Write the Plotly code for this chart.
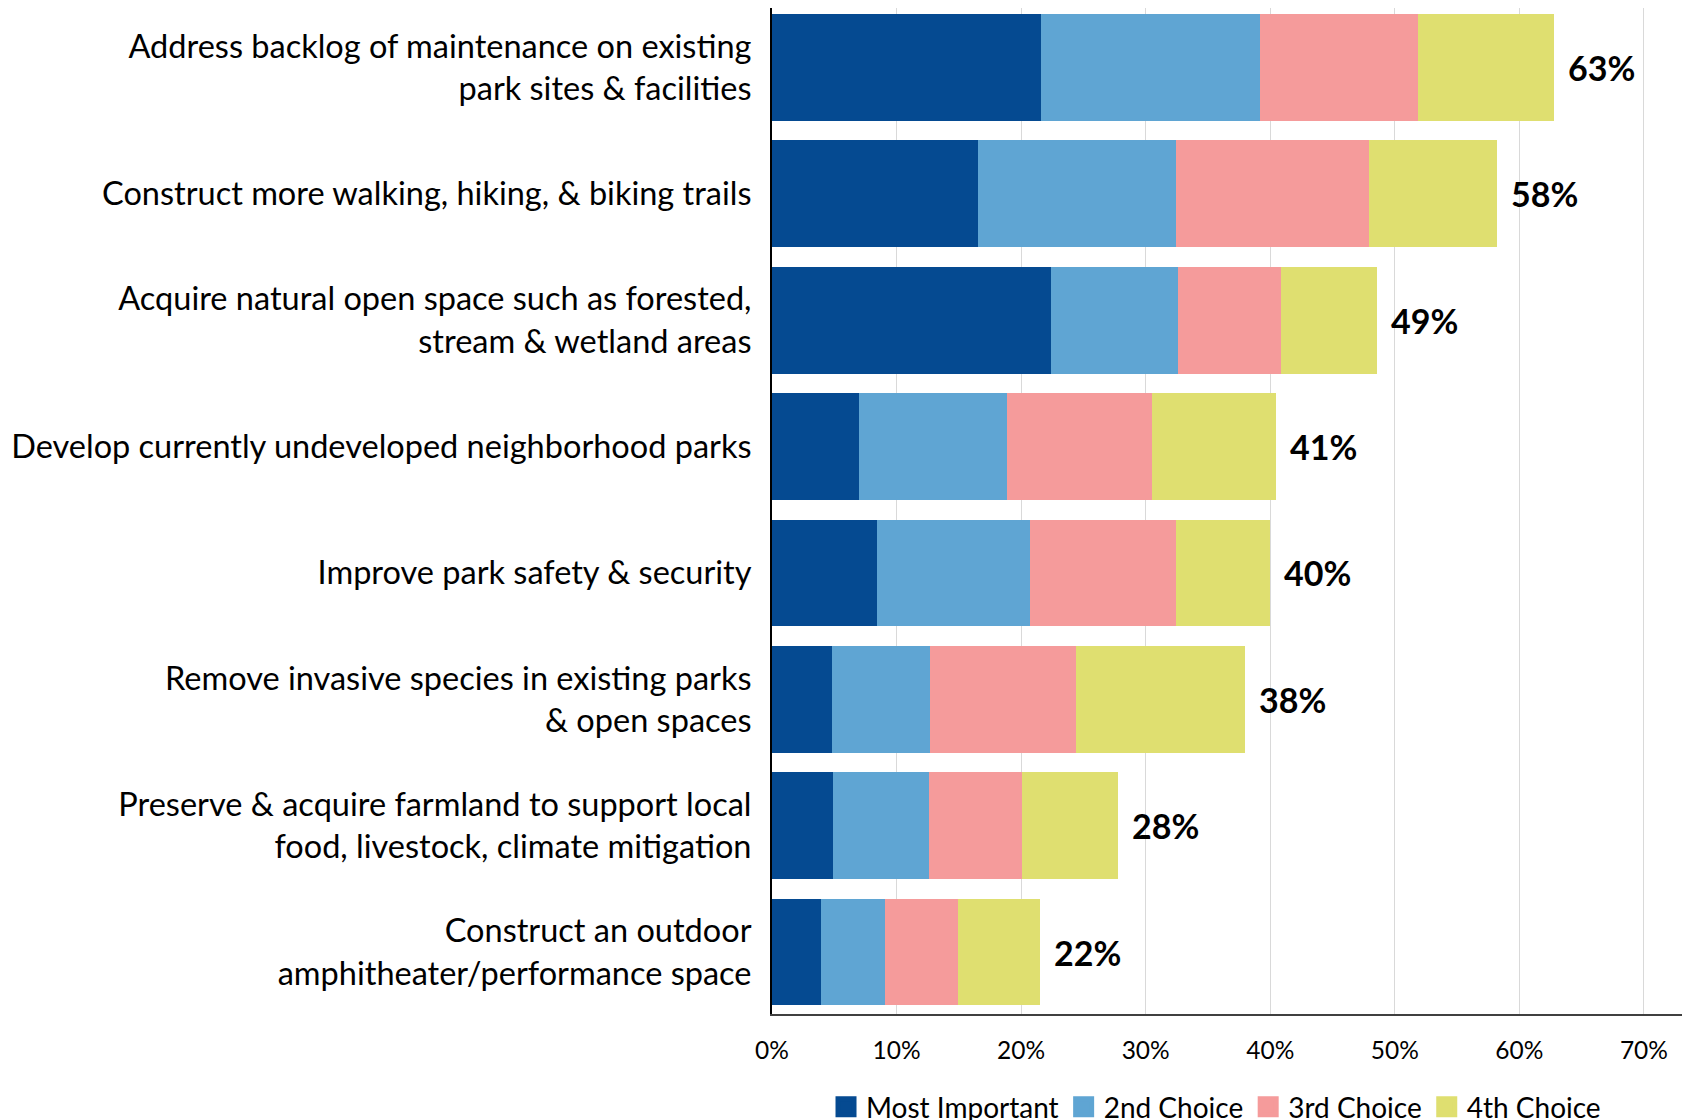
import plotly.graph_objects as go

# ------------------------------------------------------------------ #
# Data (percent of respondents)
# ------------------------------------------------------------------ #
CATEGORIES = [
    "Address backlog of maintenance on existing<br>park sites & facilities",
    "Construct more walking, hiking, & biking trails",
    "Acquire natural open space such as forested,<br>stream & wetland areas",
    "Develop currently undeveloped neighborhood parks",
    "Improve park safety & security",
    "Remove invasive species in existing parks<br>& open spaces",
    "Preserve & acquire farmland to support local<br>food, livestock, climate mitigation",
    "Construct an outdoor<br>amphitheater/performance space",
]
MOST_IMPORTANT = [21.6, 16.5, 22.4, 7.0, 8.4, 4.8, 4.9, 3.9]
SECOND_CHOICE = [17.6, 15.9, 10.2, 11.9, 12.3, 7.9, 7.7, 5.2]
THIRD_CHOICE = [12.7, 15.5, 8.3, 11.6, 11.7, 11.7, 7.5, 5.8]
FOURTH_CHOICE = [10.9, 10.3, 7.7, 10.0, 7.6, 13.6, 7.7, 6.6]
TOTAL_LABELS = [63, 58, 49, 41, 40, 38, 28, 22]

SERIES = [
    ("Most Important", MOST_IMPORTANT, "#054A91"),
    ("2nd Choice", SECOND_CHOICE, "#5FA5D3"),
    ("3rd Choice", THIRD_CHOICE, "#F59B9B"),
    ("4th Choice", FOURTH_CHOICE, "#DFDF70"),
]

FONT = "Lato, Calibri, sans-serif"
# page body has an 8px margin, so the figure is sized to fit the window
W, H = 1682, 1112
ML, MR, MT, MB = 764, 0, 0, 106

fig = go.Figure()
for name, vals, color in SERIES:
    fig.add_trace(go.Bar(
        y=CATEGORIES, x=[v / 100 for v in vals], name=name, orientation="h",
        marker=dict(color=color, line=dict(width=0)), hoverinfo="skip",
        showlegend=False,
    ))
# legend-only entries with larger swatches
for name, _, color in SERIES:
    fig.add_trace(go.Scatter(
        x=[None], y=[None], mode="markers", name=name,
        marker=dict(symbol="square", size=16, color=color, line=dict(color=color, width=5)),
    ))

totals = [sum(t) for t in zip(MOST_IMPORTANT, SECOND_CHOICE, THIRD_CHOICE, FOURTH_CHOICE)]
for cat, tot, lab in zip(CATEGORIES, totals, TOTAL_LABELS):
    fig.add_annotation(
        x=tot / 100, y=cat, text=f"<b>{lab}%</b>", showarrow=False,
        xanchor="left", xshift=12, font=dict(family=FONT, size=34, color="#000000"),
    )

# source note, cut off by the bottom edge as in the original
plot_w, plot_h = W - ML - MR, H - MT - MB
fig.add_annotation(
    xref="paper", yref="paper", x=(-10 - ML) / plot_w, y=-98 / plot_h,
    xanchor="left", yanchor="top", showarrow=False, align="left",
    text="Source: ETC Institute (2021)", font=dict(family=FONT, size=24, color="#000000"),
)

fig.update_layout(
    width=W, height=H, barmode="stack", bargap=0.156,
    margin=dict(l=ML, r=MR, t=MT, b=MB, pad=0),
    paper_bgcolor="#FFFFFF", plot_bgcolor="#FFFFFF",
    font=dict(family=FONT, color="#000000"),
    xaxis=dict(
        range=[0, 0.737], tickvals=[0, 0.1, 0.2, 0.3, 0.4, 0.5, 0.6, 0.7],
        tickformat=".0%", tickfont=dict(size=24.5), ticks="",
        showgrid=True, gridcolor="#D9D9D9", gridwidth=1, zeroline=False,
        showline=True, linecolor="#404040", linewidth=2, mirror=True,
        ticklabelstandoff=14, automargin=False,
    ),
    yaxis=dict(
        range=[7.49, -0.47], tickfont=dict(size=32.5), ticks="",
        showline=True, linecolor="#000000", linewidth=2, showgrid=False,
        ticklabelstandoff=12, automargin=False,
    ),
    legend=dict(
        orientation="h", yref="container", y=0.0117, yanchor="middle",
        xref="container", x=0.7182, xanchor="center",
        font=dict(size=28), traceorder="normal", itemclick=False,
    ),
    showlegend=True,
)

fig.write_html("out.html")
